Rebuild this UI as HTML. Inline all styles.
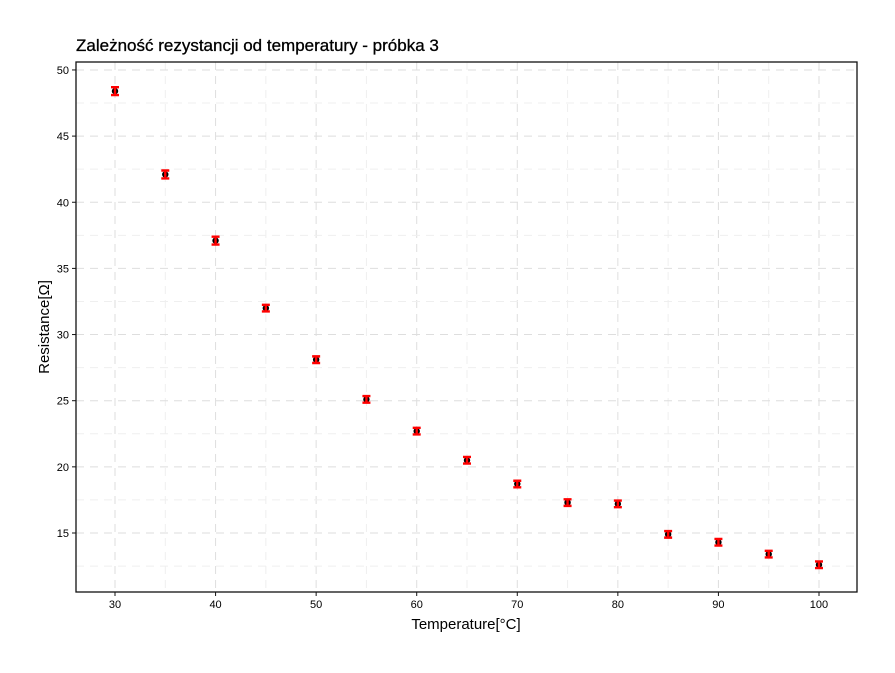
<!DOCTYPE html>
<html><head><meta charset="utf-8"><style>
body{margin:0;background:#fff;font-family:"Liberation Sans",sans-serif}
</style></head><body>
<svg id="chart" width="895" height="668" xmlns="http://www.w3.org/2000/svg" font-family="Liberation Sans, sans-serif">
<rect width="895" height="668" fill="#fff"/>
<text x="76" y="51" font-size="17" fill="#000" stroke="#000" stroke-width="0.3">Zależność rezystancji od temperatury - próbka 3</text>
<g id="grid"></g>
<g id="marks"></g>
<rect x="76" y="62" width="781" height="530" fill="none" stroke="#111" stroke-width="1.3"/>
<g id="axes"></g>
<text x="466" y="629" font-size="15" text-anchor="middle">Temperature[°C]</text>
<text transform="translate(49,327) rotate(-90)" font-size="15" text-anchor="middle">Resistance[Ω]</text>
</svg>
<script>
const temps=[30,35,40,45,50,55,60,65,70,75,80,85,90,95,100];
const resist=[48.4,42.1,37.1,32.0,28.1,25.1,22.7,20.5,18.7,17.3,17.2,14.9,14.3,13.4,12.6];
const errs=[0.3,0.3,0.3,0.25,0.25,0.25,0.25,0.25,0.25,0.25,0.25,0.25,0.25,0.25,0.25];
const xTicks=[30,40,50,60,70,80,90,100];
const yTicks=[15,20,25,30,35,40,45,50];
const xScale=v=>115+(v-30)*100.57/10;
const yScale=v=>533-(v-15)*13.23;
const NS="http://www.w3.org/2000/svg";
function mk(tag,attrs,parent){const e=document.createElementNS(NS,tag);for(const k in attrs)e.setAttribute(k,attrs[k]);parent.appendChild(e);return e;}
const grid=document.getElementById('grid'),marks=document.getElementById('marks'),axes=document.getElementById('axes');
xTicks.forEach(t=>{
  const x=xScale(t);
  const g=mk('line',{x1:x,x2:x,y1:62,y2:592,stroke:'#dedede','stroke-dasharray':'8,6'},grid);
  
  
  const m=xScale(t+5);
  if(t<100){const mg=mk('line',{x1:m,x2:m,y1:62,y2:592,stroke:'#efefef','stroke-dasharray':'8,6'},grid);
  
  }
  const tk=mk('line',{x1:x,x2:x,y1:592,y2:596,stroke:'#111'},axes);
  
  
  const tx=mk('text',{x:x,y:608,'font-size':11,'text-anchor':'middle',fill:'#000'},axes);
  tx.textContent=t;
  
  
});
[12.5].concat(yTicks.map(t=>t+2.5)).forEach(t=>{
  const y=yScale(t);
  if(y<62||y>592)return;
  const mg=mk('line',{x1:76,x2:857,y1:y,y2:y,stroke:'#efefef','stroke-dasharray':'8,6'},grid);
  
  
});
yTicks.forEach(t=>{
  const y=yScale(t);
  const g=mk('line',{x1:76,x2:857,y1:y,y2:y,stroke:'#dedede','stroke-dasharray':'8,6'},grid);
  
  
  const tk=mk('line',{x1:72,x2:76,y1:y,y2:y,stroke:'#111'},axes);
  
  
  const tx=mk('text',{x:69,y:y+4,'font-size':11,'text-anchor':'end',fill:'#000'},axes);
  tx.textContent=t;
  
  
});
temps.forEach((t,i)=>{
  const x=xScale(t),y=yScale(resist[i]),y1=yScale(resist[i]+errs[i]),y2=yScale(resist[i]-errs[i]);
  const pt=mk('circle',{cx:x,cy:y,r:3.2,fill:'#000'},marks);
  
  
  const eb=mk('path',{d:`M${x-4},${y1}H${x+4}M${x},${y1}V${y2}M${x-4},${y2}H${x+4}`,stroke:'#f00','stroke-width':2.4,fill:'none'},marks);
  
  
});
</script>
</body></html>
